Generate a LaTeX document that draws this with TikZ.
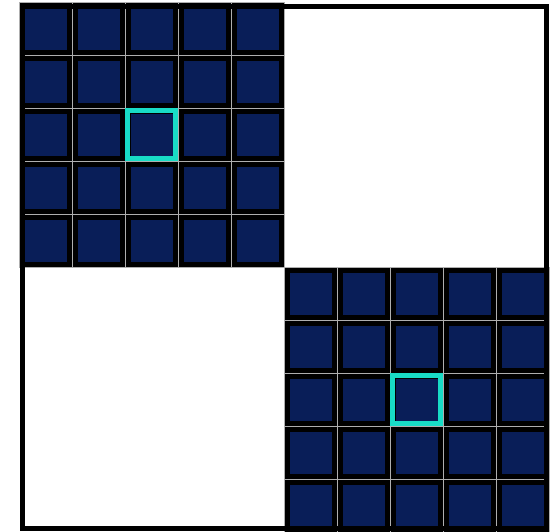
\documentclass[tikz,border=0pt]{standalone}
\definecolor{navy}{RGB}{9,30,88}
\definecolor{hl}{RGB}{24,220,198}
\definecolor{gline}{RGB}{175,175,175}
\tikzset{
  cellbg/.style={fill=black},
  cellfg/.style={fill=navy},
  gridline/.style={draw=gline, line width=0.9pt},
  hlbox/.style={draw=hl, line width=5pt},
  framebox/.style={draw=black, line width=5pt}
}
\begin{document}
\begin{tikzpicture}[x=1pt,y=-1pt]
\useasboundingbox (0,0) rectangle (554,531);
\foreach \ox/\oy in {19.3/2.3, 284.3/267.3} {
  \fill[cellbg] (\ox,\oy) rectangle ++(265,265);
  \foreach \i in {0,...,4} {
    \foreach \j in {0,...,4} {
      \fill[cellfg] (\ox+53*\i+5.5, \oy+53*\j+5.5) rectangle ++(42,42);
    }
  }
  \foreach \k in {0,...,5} {
    \draw[gridline] (\ox+53*\k,\oy) -- ++(0,265);
    \draw[gridline] (\ox,\oy+53*\k) -- ++(265,0);
  }
  \draw[hlbox] (\ox+106+2.5,\oy+106+2.5) rectangle ++(48,48);
}
\draw[framebox] (22.5,6.8) rectangle (546.3,528.3);
\end{tikzpicture}
\end{document}
